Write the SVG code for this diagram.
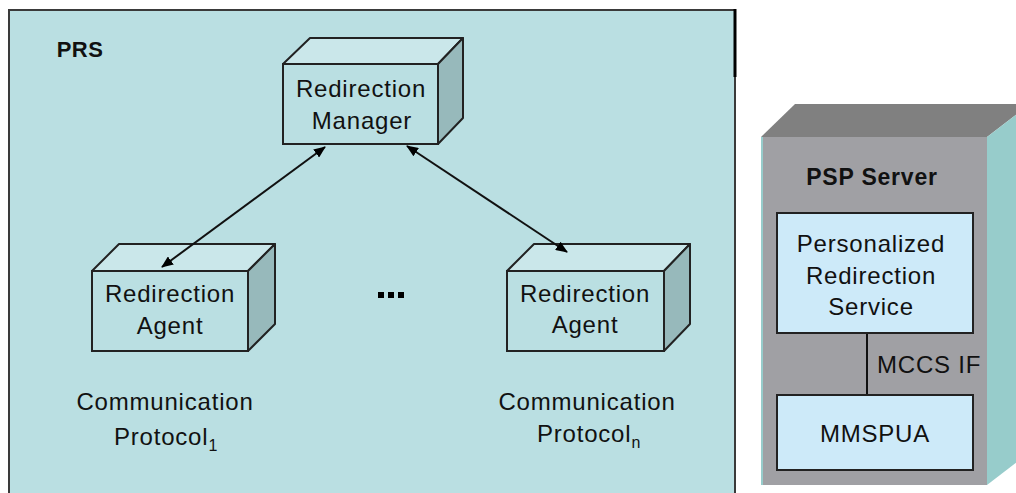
<svg xmlns="http://www.w3.org/2000/svg" width="1016" height="493" viewBox="0 0 1016 493">
<defs>
<style>
.t{font-family:"Liberation Sans",Arial,sans-serif;font-size:24px;fill:#111;text-anchor:middle;letter-spacing:0.8px}
.s{text-anchor:start}
.b{font-family:"Liberation Sans",Arial,sans-serif;font-weight:bold;fill:#111;text-anchor:middle}
.front{fill:#badfe2;stroke:#222;stroke-width:2}
.top{fill:#cae7ea;stroke:#222;stroke-width:2;stroke-linejoin:round}
.side{fill:#97b9bb;stroke:#222;stroke-width:2;stroke-linejoin:round}
.inner{fill:#cdeaf9;stroke:#222;stroke-width:2}
.conn{stroke:#111;stroke-width:2;fill:none}
</style>
<marker id="ah" viewBox="0 0 12 10" refX="11" refY="5" markerWidth="12" markerHeight="10" markerUnits="userSpaceOnUse" orient="auto-start-reverse">
<path d="M0,0 L12,5 L0,10 Z" fill="#000"/>
</marker>
</defs>
<rect width="1016" height="493" fill="#fff"/>
<g id="prs">
<rect x="9" y="10" width="726" height="490" fill="#badfe2" stroke="#3a3a3a" stroke-width="2"/>
<line x1="735" y1="9" x2="735" y2="77" stroke="#000" stroke-width="3"/>
<text class="b" x="80" y="57" font-size="22" letter-spacing="0.5">PRS</text>
</g>
<g id="manager">
<polygon class="top" points="283,64 310,38 463,38 438,64"/>
<polygon class="side" points="438,64 463,38 463,118 438,144"/>
<rect class="front" x="283" y="64" width="155" height="80"/>
<text class="t" x="361" y="97">Redirection</text>
<text class="t" x="362" y="129">Manager</text>
</g>
<g id="agent1">
<polygon class="top" points="92,271 119,244 275,244 248,271"/>
<polygon class="side" points="248,271 275,244 275,324 248,351"/>
<rect class="front" x="92" y="271" width="156" height="80"/>
<text class="t" x="170" y="302">Redirection</text>
<text class="t" x="170" y="334">Agent</text>
</g>
<g id="agentn">
<polygon class="top" points="507,271 534,244 690,244 664,271"/>
<polygon class="side" points="664,271 690,244 690,324 664,351"/>
<rect class="front" x="507" y="271" width="157" height="80"/>
<text class="t" x="585" y="302">Redirection</text>
<text class="t" x="585" y="333">Agent</text>
</g>
<g id="ellipsis">
<rect x="378" y="292" width="6" height="6" fill="#000"/>
<rect x="388" y="292" width="6" height="6" fill="#000"/>
<rect x="398" y="292" width="6" height="6" fill="#000"/>
</g>
<g id="proto1">
<text class="t" x="165" y="410">Communication</text>
<text class="t" x="166" y="445">Protocol<tspan font-size="16" dy="6">1</tspan></text>
</g>
<g id="proton">
<text class="t" x="587" y="410">Communication</text>
<text class="t" x="589" y="442">Protocol<tspan font-size="16" dy="6">n</tspan></text>
</g>
<g id="psp">
<polygon points="761,137 795,104 1030,104 987,137" fill="#808080"/>
<polygon points="987,137 1030,104 1030,452 987,485" fill="#97cccb"/>
<rect x="761" y="137" width="226" height="348" fill="#a0a0a4"/>
<line x1="762" y1="137" x2="762" y2="485" stroke="#97cccb" stroke-width="2"/>
<text class="b" x="872" y="185" font-size="23" letter-spacing="0.8">PSP Server</text>
<text class="t s" x="877" y="373">MCCS IF</text>
</g>
<g id="prservice">
<rect class="inner" x="777" y="213" width="196" height="120"/>
<text class="t" x="871" y="252">Personalized</text>
<text class="t" x="871" y="284">Redirection</text>
<text class="t" x="871" y="315">Service</text>
</g>
<g id="mmspua">
<rect class="inner" x="777" y="395" width="196" height="75"/>
<text class="t" x="875" y="442">MMSPUA</text>
</g>
<g id="connectors">
<line class="conn" x1="162" y1="267" x2="325" y2="147" marker-start="url(#ah)" marker-end="url(#ah)"/>
<line class="conn" x1="407" y1="146" x2="567" y2="252" marker-start="url(#ah)" marker-end="url(#ah)"/>
<line class="conn" x1="867" y1="334" x2="867" y2="394"/>
</g>
</svg>
